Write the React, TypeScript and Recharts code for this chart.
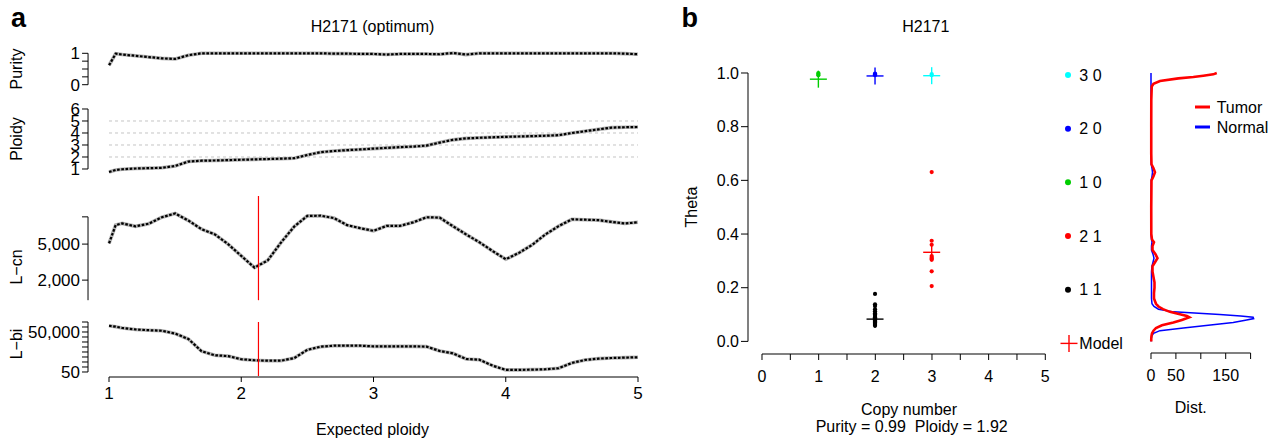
import React from 'react'
import { LineChart, Line, XAxis, YAxis, ReferenceLine, ScatterChart, Scatter } from 'recharts'

const FONT = '"Liberation Sans", Arial, Helvetica, sans-serif'

// ---- panel a: scan over expected ploidy
const expectedPloidy = [1, 1.05, 1.1, 1.2, 1.3, 1.4, 1.5, 1.6, 1.7, 1.8, 1.9, 2, 2.1, 2.2, 2.3, 2.4, 2.5, 2.6, 2.7, 2.8, 2.9, 3, 3.1, 3.2, 3.3, 3.4, 3.5, 3.6, 3.7, 3.8, 3.9, 4, 4.1, 4.2, 4.3, 4.4, 4.5, 4.6, 4.7, 4.8, 4.9, 5]
const purity = [0.62, 0.99, 0.96, 0.92, 0.88, 0.84, 0.82, 0.94, 1, 1, 1, 1, 1, 1, 1, 1, 1, 1, 0.99, 0.99, 0.98, 0.98, 0.96, 0.98, 0.98, 0.98, 0.97, 1.01, 0.96, 1, 1, 1, 1, 1, 1, 1, 1, 1, 1, 1, 0.99, 0.97]
const ploidy = [0.75, 0.92, 0.98, 1.04, 1.07, 1.1, 1.25, 1.62, 1.69, 1.71, 1.74, 1.77, 1.8, 1.83, 1.86, 1.9, 2.17, 2.4, 2.5, 2.57, 2.63, 2.7, 2.76, 2.82, 2.87, 2.95, 3.2, 3.43, 3.55, 3.6, 3.64, 3.68, 3.71, 3.74, 3.77, 3.82, 4.0, 4.15, 4.3, 4.45, 4.48, 4.5]
const lCn = [5090, 8110, 8470, 7850, 8400, 9900, 10900, 9100, 7300, 6400, 5000, 3700, 2750, 3300, 5200, 7800, 10250, 10300, 9700, 8100, 7500, 7000, 7950, 7950, 8700, 9900, 9800, 7900, 6400, 5250, 4200, 3400, 4000, 4900, 6400, 7900, 9400, 9300, 9200, 8800, 8450, 8700]
const lBi = [148000, 125000, 100000, 78000, 68000, 62000, 38000, 15000, 1800, 900, 780, 450, 380, 350, 350, 550, 2300, 3950, 4700, 4700, 4700, 4200, 4200, 4200, 4200, 4000, 1900, 1250, 470, 420, 150, 72, 72, 75, 80, 95, 240, 400, 500, 560, 600, 634]
const optimum = 2.13

const purityTicks = [0, 0.25, 0.5, 0.75, 1]
const purityLabels = [0, 1]
const ploidyTicks = [1, 2, 3, 4, 5, 6]
const ploidyGuides = [2, 3, 4, 5]
const lCnTicks = [2000, 5000, 10000]
const lCnLabels = [2000, 5000]
const lBiTicks = [50, 118.6, 281.2, 666.8, 1581, 3750, 8891, 21084, 50000, 118568, 281171]
const lBiLabels = [50, 50000]
const expectedTicks = [1, 2, 3, 4, 5]

// ---- panel b: theta by copy number
const states = ['3 0', '2 0', '1 0', '2 1', '1 1']
const stateColors = ['#00ffff', '#0000ff', '#00cd00', '#ff0000', '#000000']
const stateCn = [3, 2, 1, 3, 2]
const theta30 = [0.996, 0.992]
const theta20 = [0.998, 0.995, 0.992]
const theta10 = [1.0, 0.996, 0.992]
const theta21 = [0.631, 0.375, 0.36, 0.318, 0.312, 0.308, 0.304, 0.261, 0.206]
const theta11 = [0.177, 0.138, 0.132, 0.12, 0.112, 0.105, 0.1, 0.095, 0.09, 0.086, 0.082, 0.078, 0.074, 0.07, 0.066, 0.062, 0.058]
const stateTheta = [theta30, theta20, theta10, theta21, theta11]
const modelTheta = [0.99, 0.989, 0.977, 0.332, 0.083]
const thetaTicks = [0, 0.2, 0.4, 0.6, 0.8, 1]
const cnTicks = [0, 0.5, 1, 1.5, 2, 2.5, 3, 3.5, 4, 4.5, 5]
const cnLabels = [0, 1, 2, 3, 4, 5]

// ---- density of theta
const distTheta = [1, 0.995, 0.99, 0.985, 0.98, 0.97, 0.96, 0.95, 0.9, 0.8, 0.7, 0.66, 0.645, 0.63, 0.615, 0.6, 0.5, 0.4, 0.38, 0.37, 0.355, 0.34, 0.325, 0.31, 0.295, 0.28, 0.26, 0.24, 0.22, 0.2, 0.18, 0.16, 0.14, 0.13, 0.12, 0.11, 0.1, 0.095, 0.09, 0.085, 0.08, 0.07, 0.06, 0.05, 0.04, 0.03, 0.02, 0.01, 0]
const tumorDist = [132, 125, 105, 85, 55, 18, 5, 1.5, 0.6, 0.5, 0.5, 1, 5, 8, 5, 1, 0.5, 0.6, 2, 6, 3, 3, 9, 13, 8, 3, 3, 5, 7, 7, 6, 6, 10, 15, 24, 38, 60, 72, 77, 70, 62, 45, 22, 10, 5, 2, 1, 0.5, 0.5]
const normalDist = [0, 0, 0, 0, 0, 0, 0, 0, 0, 0, 0, 0.5, 2, 3, 2, 0.5, 0, 0, 1, 2, 1, 1, 4, 6, 4, 2, 1, 1, 1, 1, 1, 1, 2, 6, 15, 45, 138, 180, 205, 206, 192, 165, 115, 65, 18, 5, 1.5, 0.5, 0]
const distTicks = [0, 50, 100, 150, 200]
const distLabels = [0, 50, 150]

// layout (px)
const X_MIN = 0.841 // R leaves a gap between the y axis and x = 1
const A_LEFT = 88
const A_WIDTH = 550
const B_LEFT = 748
const B_TOP = 73.3
const B_H = 268.4
const B_W = 297
const B_XMIN = -0.242
const D_LEFT = 1150.7
const D_W = 111.6

const scanData = expectedPloidy.map((x, i) => ({ x, purity: purity[i], ploidy: ploidy[i], lcn: lCn[i], lbi: lBi[i] }))
const tumorData = distTheta.map((theta, i) => ({ d: tumorDist[i], theta }))
const normalData = distTheta.map((theta, i) => ({ d: normalDist[i], theta }))

const tickStyle = (size: number) => ({ fill: '#000', fontSize: size, fontFamily: FONT })

type RowProps = {
  top: number
  height: number
  dataKey: string
  domain: [number, number]
  ticks: number[]
  labels: number[]
  axisSpan: [number, number]
  log?: boolean
  guides?: number[]
  marker?: boolean
}

function ScanRow({ top, height, dataKey, domain, ticks, labels, axisSpan, log, guides = [], marker }: RowProps) {
  const mT = 12
  const mB = 12
  const mR = 6
  return (
    <div style={{ position: 'absolute', left: 0, top: top - mT }}>
      <LineChart
        width={A_LEFT + A_WIDTH + mR}
        height={mT + height + mB}
        data={scanData}
        margin={{ top: mT, right: mR, bottom: mB, left: 0 }}
      >
        <XAxis type="number" dataKey="x" domain={[X_MIN, 5]} hide />
        <YAxis
          type="number"
          width={A_LEFT}
          scale={log ? 'log' : 'linear'}
          domain={domain}
          ticks={ticks}
          interval={0}
          tickFormatter={(v: number) => (labels.includes(v) ? v.toLocaleString('en-US') : '')}
          axisLine={false}
          tickLine={{ stroke: '#000' }}
          tickSize={6}
          tickMargin={2}
          tick={tickStyle(17)}
        />
        {guides.map(g => (
          <ReferenceLine key={g} segment={[{ x: 1, y: g }, { x: 5, y: g }]} stroke="#c4c4c4" strokeDasharray="3 3" />
        ))}
        <ReferenceLine
          segment={[{ x: X_MIN, y: axisSpan[0] }, { x: X_MIN, y: axisSpan[1] }]}
          stroke="#000"
          ifOverflow="visible"
        />
        <Line dataKey={dataKey} stroke="#b4b4b4" strokeWidth={3.6} dot={false} isAnimationActive={false} />
        <Line dataKey={dataKey} stroke="#000" strokeWidth={2.2} strokeDasharray="2.6 1.6" dot={false} isAnimationActive={false} />
        {marker && <ReferenceLine x={optimum} stroke="#ff0000" strokeWidth={1.2} />}
      </LineChart>
    </div>
  )
}

type StripProps = {
  left: number
  right: number
  y: number
  domain: [number, number]
  ticks: number[]
  labels: number[]
  tickSize: number
  tickMargin: number
  fontSize: number
}

// bottom axis on its own, so its line runs only over the data range
function AxisStrip({ left, right, y, domain, ticks, labels, tickSize, tickMargin, fontSize }: StripProps) {
  const pad = 14
  return (
    <div style={{ position: 'absolute', left: left - pad, top: y - 2 }}>
      <LineChart
        width={right - left + 2 * pad}
        height={44}
        data={ticks.map(v => ({ v }))}
        margin={{ top: 0, right: pad, bottom: 0, left: pad }}
      >
        <XAxis
          type="number"
          dataKey="v"
          domain={domain}
          ticks={ticks}
          interval={0}
          height={42}
          tickFormatter={(v: number) => (labels.includes(v) ? String(v) : '')}
          axisLine={{ stroke: '#000' }}
          tickLine={{ stroke: '#000' }}
          tickSize={tickSize}
          tickMargin={tickMargin}
          tick={tickStyle(fontSize)}
        />
        <YAxis hide />
      </LineChart>
    </div>
  )
}

const dot = (color: string) => (p: any) => <circle cx={p.cx} cy={p.cy} r={2.1} fill={color} />
const cross = (color: string) => (p: any) => (
  <g stroke={color} strokeWidth={1.4}>
    <line x1={p.cx - 8.5} x2={p.cx + 8.5} y1={p.cy} y2={p.cy} />
    <line x1={p.cx} x2={p.cx} y1={p.cy - 8.5} y2={p.cy + 8.5} />
  </g>
)
const noPoint = () => <g />

export default function App() {
  const rowY = (t: number) => B_TOP + (1 - t) * B_H + 1.7
  return (
    <div style={{ position: 'absolute', left: 0, top: 0, width: 1277, height: 439, background: '#fff', overflow: 'hidden', fontFamily: FONT }}>
      {/* a */}
      <ScanRow top={53.3} height={31.7} dataKey="purity" domain={[0, 1]} ticks={purityTicks} labels={purityLabels} axisSpan={[0, 1]} />
      <ScanRow top={109} height={63.6} dataKey="ploidy" domain={[0.7, 6]} ticks={ploidyTicks} labels={ploidyTicks} axisSpan={[1, 6]} guides={ploidyGuides} />
      <ScanRow top={195.9} height={104.2} dataKey="lcn" domain={[1200, 17000]} ticks={lCnTicks} labels={lCnLabels} axisSpan={[1200, 10000]} log marker />
      <ScanRow top={322} height={54} dataKey="lbi" domain={[25, 281171]} ticks={lBiTicks} labels={lBiLabels} axisSpan={[50, 281171]} log marker />
      <AxisStrip left={109} right={638} y={377} domain={[1, 5]} ticks={expectedTicks} labels={expectedTicks} tickSize={5} tickMargin={5} fontSize={17} />

      {/* b */}
      <div style={{ position: 'absolute', left: B_LEFT - 52, top: B_TOP - 14 }}>
        <ScatterChart width={52 + B_W + 12} height={14 + B_H + 12} margin={{ top: 14, right: 12, bottom: 12, left: 0 }}>
          <XAxis type="number" dataKey="cn" domain={[B_XMIN, 5]} hide />
          <YAxis
            type="number"
            dataKey="theta"
            width={52}
            domain={[0, 1]}
            ticks={thetaTicks}
            interval={0}
            tickFormatter={(v: number) => v.toFixed(1)}
            axisLine={{ stroke: '#000' }}
            tickLine={{ stroke: '#000' }}
            tickSize={7}
            tickMargin={2}
            tick={tickStyle(16)}
          />
          {states.map((s, k) => (
            <Scatter
              key={'pts' + s}
              data={stateTheta[k].map(theta => ({ cn: stateCn[k], theta }))}
              shape={dot(stateColors[k])}
              isAnimationActive={false}
            />
          ))}
          {states.map((s, k) => (
            <Scatter
              key={'model' + s}
              data={[{ cn: stateCn[k], theta: modelTheta[k] }]}
              shape={cross(stateColors[k])}
              isAnimationActive={false}
            />
          ))}
        </ScatterChart>
      </div>
      <AxisStrip left={761.7} right={1045} y={354} domain={[0, 5]} ticks={cnTicks} labels={cnLabels} tickSize={6} tickMargin={11} fontSize={16} />

      {/* dist */}
      <div style={{ position: 'absolute', left: D_LEFT - 10, top: B_TOP - 14 }}>
        <ScatterChart width={10 + D_W + 8} height={14 + B_H + 12} margin={{ top: 14, right: 8, bottom: 12, left: 10 }}>
          <XAxis type="number" dataKey="d" domain={[0, 224]} hide />
          <YAxis type="number" dataKey="theta" domain={[0, 1]} hide />
          <Scatter data={normalData} stroke="#0000ff" line={{ stroke: '#0000ff', strokeWidth: 1.5 }} lineType="joint" shape={noPoint} isAnimationActive={false} />
          <Scatter data={tumorData} stroke="#ff0000" line={{ stroke: '#ff0000', strokeWidth: 2.6 }} lineType="joint" shape={noPoint} isAnimationActive={false} />
        </ScatterChart>
      </div>
      <AxisStrip left={D_LEFT} right={1250.3} y={353.3} domain={[0, 200]} ticks={distTicks} labels={distLabels} tickSize={6} tickMargin={11} fontSize={16} />

      {/* free text and legends */}
      <svg width={1277} height={439} style={{ position: 'absolute', left: 0, top: 0, pointerEvents: 'none' }} fontFamily={FONT}>
        <text x={11} y={27} fontSize={27} fontWeight="bold">a</text>
        <text x={681.5} y={27} fontSize={27} fontWeight="bold">b</text>
        <text x={372.5} y={31.7} fontSize={16} textAnchor="middle">H2171 (optimum)</text>
        <text x={925.8} y={31.7} fontSize={16} textAnchor="middle">H2171</text>
        <text x={372.5} y={435} fontSize={16} textAnchor="middle">Expected ploidy</text>
        <text x={909} y={415} fontSize={16} textAnchor="middle">Copy number</text>
        <text x={911.7} y={431.7} fontSize={16} textAnchor="middle" style={{ whiteSpace: 'pre' }}>Purity = 0.99  Ploidy = 1.92</text>
        <text x={1190.8} y={413.3} fontSize={16} textAnchor="middle">Dist.</text>
        {[['Purity', 69], ['Ploidy', 139], ['L\u2212cn', 267], ['L\u2212bi', 344]].map(([t, cy]) => (
          <text key={t as string} transform={`translate(22, ${cy}) rotate(-90)`} fontSize={16} textAnchor="middle">{t}</text>
        ))}
        <text transform="translate(696.5, 207) rotate(-90)" fontSize={16} textAnchor="middle">Theta</text>

        {states.map((s, k) => (
          <g key={s}>
            <circle cx={1068} cy={rowY(thetaTicks[5 - k])} r={3} fill={stateColors[k]} />
            <text x={1079.3} y={rowY(thetaTicks[5 - k]) + 5.7} fontSize={16}>{s}</text>
          </g>
        ))}
        <g stroke="#ff0000" strokeWidth={1.4}>
          <line x1={1060.5} x2={1077.5} y1={rowY(0)} y2={rowY(0)} />
          <line x1={1069} x2={1069} y1={rowY(0) - 8.5} y2={rowY(0) + 8.5} />
        </g>
        <text x={1079.3} y={rowY(0) + 5.7} fontSize={16}>Model</text>

        <line x1={1195} x2={1210} y1={107} y2={107} stroke="#ff0000" strokeWidth={3} />
        <text x={1216.7} y={113.2} fontSize={16}>Tumor</text>
        <line x1={1195} x2={1210} y1={127} y2={127} stroke="#0000ff" strokeWidth={3} />
        <text x={1216.7} y={133.2} fontSize={16}>Normal</text>
      </svg>
    </div>
  )
}
